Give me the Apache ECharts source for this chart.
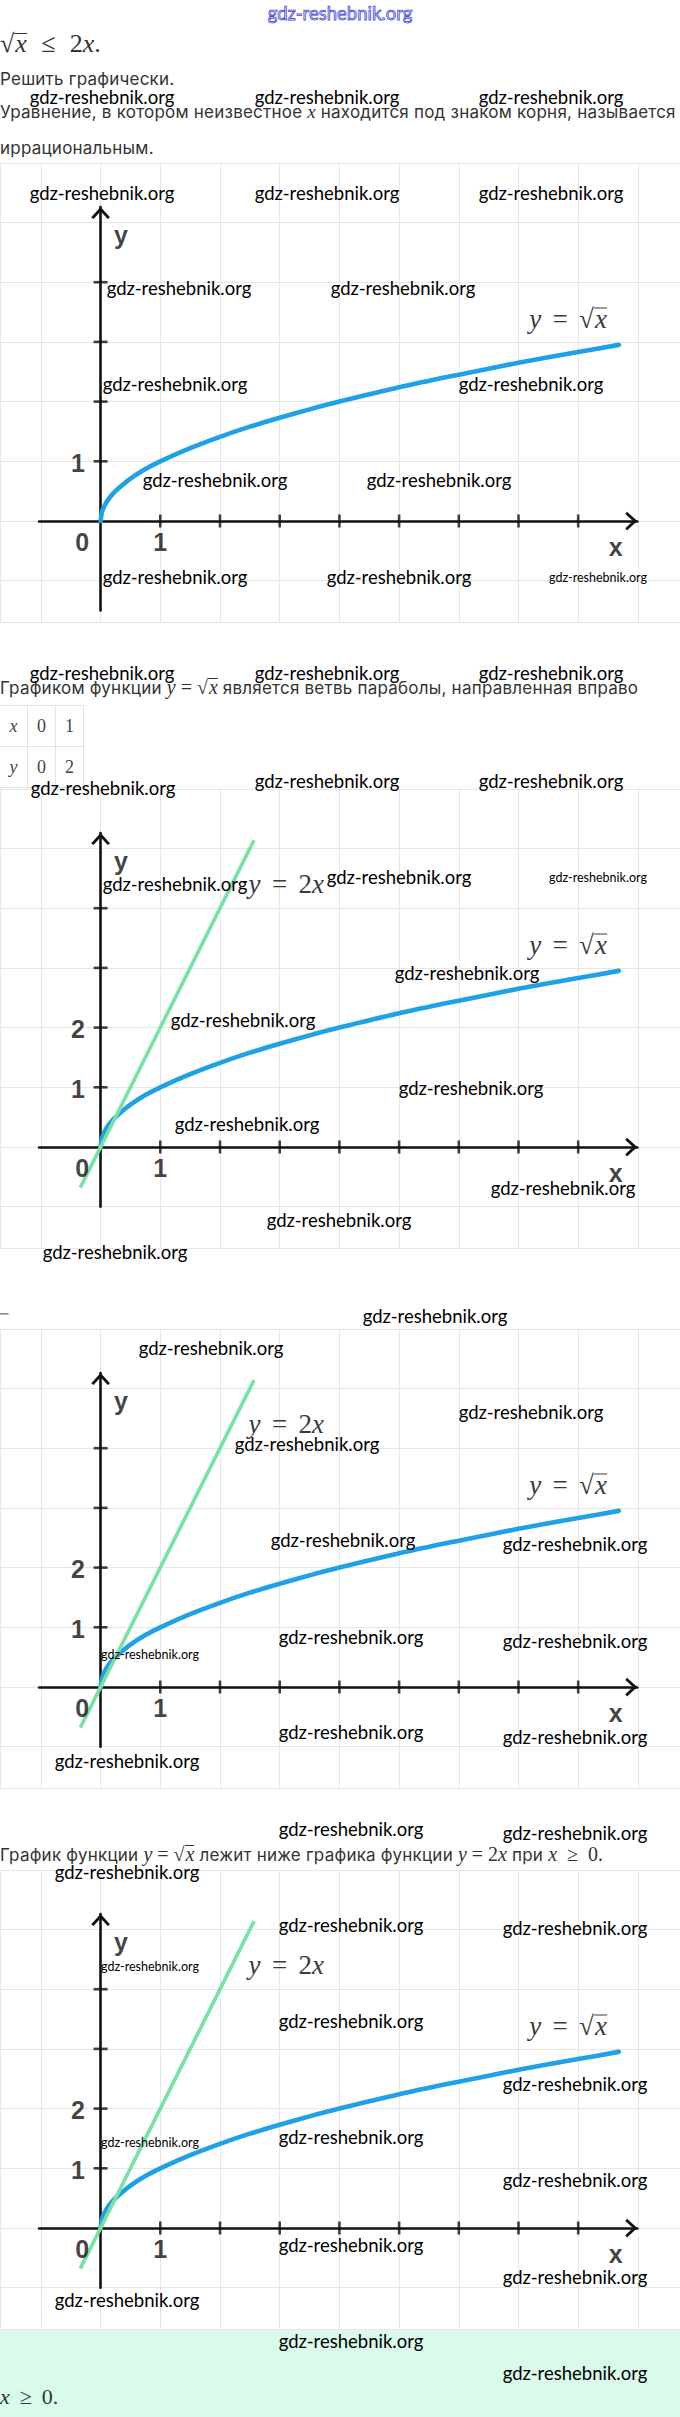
<!DOCTYPE html>
<html>
<head>
<meta charset="utf-8">
<script src="https://cdn.jsdelivr.net/npm/echarts@6.0.0/dist/echarts.min.js"></script>
<style>
html,body{margin:0;padding:0;background:#fff;}
#page{position:relative;width:680px;height:2417px;overflow:hidden;background:#fff;}
#chart{position:absolute;left:0;top:0;width:680px;height:2417px;z-index:1;}
.t{position:absolute;white-space:nowrap;font-family:Inter,"Noto Sans",sans-serif;font-size:17px;color:#333;line-height:20px;z-index:3;}
.mth{font-family:"Liberation Serif","DejaVu Serif",serif;letter-spacing:0;}
.mth i{font-style:italic;}
.ov{display:inline-block;border-top:1.2px solid currentColor;line-height:0.8em;padding-left:1px;}
.eq{margin:0 0.42em;}
.wm{position:absolute;font-family:Lato,"Open Sans",sans-serif;font-size:18.5px;line-height:1;color:#000;white-space:nowrap;transform:translate(-50%,-50%);z-index:6;}
.wm.s{font-size:12.5px;}
.wm.blue{color:#e4e4ff;-webkit-text-stroke:0.75px #4040d8;}
.flab{position:absolute;white-space:nowrap;font-family:"Liberation Serif",serif;font-size:27px;line-height:1;color:#3a3a3a;transform:translate(-50%,-50%);z-index:4;}
.flab i{font-style:italic;}
#tbl{position:absolute;left:-1px;top:705px;border-collapse:collapse;z-index:3;}
#tbl td{width:27px;height:40px;padding:0;border:1px solid #e3e3e3;text-align:center;font-family:"Liberation Serif",serif;font-size:18px;color:#444;}
#band{position:absolute;left:0;top:2330px;width:680px;height:87px;background:#dafbea;z-index:2;}
</style>
</head>
<body>
<div id="page">
  <div id="chart"></div>
  <div id="band"></div>
</div>
<script>
// ---------------- data ----------------
const sqrtX = [0, 0.02, 0.05, 0.1, 0.2, 0.35, 0.5, 0.75, 1, 1.5, 2, 2.5, 3, 3.5, 4, 5, 6, 7, 8, 8.68];
const sqrtY = [0, 0.14, 0.22, 0.32, 0.45, 0.59, 0.71, 0.87, 1.0, 1.22, 1.41, 1.58, 1.73, 1.87, 2.0, 2.24, 2.45, 2.65, 2.83, 2.95];
const lineX = [-0.34, 2.57];
const lineY = [-0.68, 5.14];
const xTickValues = [1, 2, 3, 4, 5, 6, 7, 8];
const yTickValues = [1, 2, 3, 4];
const xTickLabels = ['1'];
const yTickLabelsPerChart = [['1'], ['1', '2'], ['1', '2'], ['1', '2']];
const showLinePerChart = [false, true, true, true];
const yAxisBottomPerChart = [-1.5, -1.0, -1.0, -1.0];

// table values
const tableX = ['0', '1'];
const tableY = ['0', '2'];

// ---------------- layout ----------------
const UNIT = 59.7;
const OX = 100.6;
const originsY = [521, 1147, 1687, 2228];
const gridExtentX = [-1.685, 9.705];
const gridExtentY = [-1.7, 6.0];
const axisExtentX = [-1.03, 8.99];
const axisTopY = 5.26;
const ARROW = 'path://M0,11 L10,0 L20,11 L17.6,12.8 L10,4.6 L2.4,12.8 Z';

const page = document.getElementById('page');
function addDiv(cls, html, style) {
  const d = document.createElement('div');
  d.className = cls;
  d.innerHTML = html;
  Object.assign(d.style, style);
  page.appendChild(d);
  return d;
}
const SQRT = '√<span class="ov"><i>x</i></span>';
const M = (s, fs) => '<span class="mth" style="font-size:' + fs + 'px">' + s + '</span>';

// prose
const prose = [];
prose.push(addDiv('t', M(SQRT + '<span style="margin:0 0.55em">≤</span>2<i>x</i>.', 26), {left: '0px', top: '30px', lineHeight: '28px'}));
prose.push(addDiv('t', 'Решить графически.', {left: '0px', top: '69px'}));
const longLine = addDiv('t', 'Уравнение, в котором неизвестное ' + M('<i>x</i>', 19) + ' находится под знаком корня, называется', {left: '0px', top: '102px'});
prose.push(longLine);
prose.push(addDiv('t', 'иррациональным.', {left: '0px', top: '138px'}));
prose.push(addDiv('t', 'Графиком функции ' + M('<i>y</i> = ' + SQRT, 20) + ' является ветвь параболы, направленная вправо', {left: '0px', top: '677px'}));
prose.push(addDiv('t', '–', {left: '0px', top: '1303px', color: '#888'}));
prose.push(addDiv('t', 'График функции ' + M('<i>y</i> = ' + SQRT, 20) + ' лежит ниже графика функции ' + M('<i>y</i> = 2<i>x</i>', 20) + ' при ' + M('<i>x</i><span style="margin:0 0.5em">≥</span>0.', 20), {left: '0px', top: '1844px'}));
prose.push(addDiv('t', M('<i>x</i><span style="margin:0 0.45em">≥</span>0.', 22), {left: '0px', top: '2386px', lineHeight: '22px'}));

// fit the letter spacing of the prose so the long line ends where the reference's does
(function fit() {
  const w = longLine.getBoundingClientRect().width;
  const n = longLine.textContent.length;
  const ls = (676 - w) / n;
  prose.forEach(d => { if (d !== prose[0] && d !== prose[prose.length - 1]) d.style.letterSpacing = ls.toFixed(3) + 'px'; });
})();

// table
const tbl = document.createElement('table');
tbl.id = 'tbl';
tbl.innerHTML = '<tr><td><i>x</i></td>' + tableX.map(v => '<td>' + v + '</td>').join('') + '</tr>' +
                '<tr><td><i>y</i></td>' + tableY.map(v => '<td>' + v + '</td>').join('') + '</tr>';
page.appendChild(tbl);

// watermarks (page decoration)
const watermarks = [
  [102,97],[327,97],[551,97],[102,193],[327,193],[551,193],
  [179,288],[403,288],[175,384],[531,384],[215,480],[439,480],
  [175,577],[399,577],[598,578,1],
  [102,673],[327,673],[551,673],[103,788],[327,781],[551,781],
  [175,884],[399,877],[598,878,1],[467,973],[243,1020],[471,1088],[247,1124],
  [563,1188],[339,1220],[115,1252],
  [435,1316],[211,1348],[531,1412],[307,1444],[343,1540],[575,1544],
  [351,1637],[575,1641],[150,1655,1],[351,1732],[575,1737],[127,1761],
  [351,1829],[575,1833],[127,1872],[351,1925],[575,1928],[150,1967,1],
  [351,2021],[575,2084],[351,2137],[150,2143,1],[575,2180],
  [351,2245],[575,2277],[127,2300],[351,2341],[575,2373]
];
addDiv('wm blue', 'gdz-reshebnik.org', {left: '340px', top: '13px'});
watermarks.forEach(w => addDiv(w[2] ? 'wm s' : 'wm', 'gdz-reshebnik.org', {left: w[0] + 'px', top: w[1] + 'px'}));

// ---------------- chart ----------------
const chart = echarts.init(document.getElementById('chart'), null, {renderer: 'svg', width: 680, height: 2417});
const grid = [], xAxis = [], yAxis = [], series = [];
const hidden = {axisLine: {show: false}, axisTick: {show: false}, axisLabel: {show: false}};
const axisStyle = {color: '#111', width: 2.6};
const labelStyle = {show: true, position: 'inside', formatter: '{b}', fontFamily: 'Liberation Sans', fontWeight: 'bold', fontSize: 25, color: '#111'};

originsY.forEach((oy, i) => {
  const a = grid.length;
  grid.push({left: 0, width: 680, top: oy - gridExtentY[1] * UNIT, height: (gridExtentY[1] - gridExtentY[0]) * UNIT});
  xAxis.push(Object.assign({gridIndex: a, type: 'value', min: gridExtentX[0], max: gridExtentX[1], minInterval: 1, maxInterval: 1, splitNumber: 11,
    splitLine: {show: true, lineStyle: {color: '#e6e6e6', width: 1}}}, hidden));
  yAxis.push(Object.assign({gridIndex: a, type: 'value', min: gridExtentY[0], max: gridExtentY[1], minInterval: 1, maxInterval: 1, splitNumber: 8,
    splitLine: {show: true, lineStyle: {color: '#e6e6e6', width: 1}}}, hidden));

  const b = grid.length;
  const yb = yAxisBottomPerChart[i];
  grid.push({left: OX + axisExtentX[0] * UNIT, width: (axisExtentX[1] - axisExtentX[0]) * UNIT, top: oy - axisTopY * UNIT, height: (axisTopY - yb) * UNIT});
  xAxis.push({gridIndex: b, type: 'value', min: axisExtentX[0], max: axisExtentX[1],
    axisLine: {show: true, onZero: true, symbol: ['none', ARROW], symbolSize: [20, 12], symbolOffset: [0, -6], lineStyle: axisStyle},
    axisTick: {show: false}, axisLabel: {show: false}, splitLine: {show: false}});
  yAxis.push({gridIndex: b, type: 'value', min: yb, max: axisTopY,
    axisLine: {show: true, onZero: true, symbol: ['none', ARROW], symbolSize: [20, 12], symbolOffset: [0, -6], lineStyle: axisStyle},
    axisTick: {show: false}, axisLabel: {show: false}, splitLine: {show: false}});

  series.push({type: 'line', xAxisIndex: a, yAxisIndex: a, data: sqrtX.map((x, k) => [x, sqrtY[k]]),
    showSymbol: false, smooth: 0.3, silent: true, z: 3, lineStyle: {color: '#1ea2e5', width: 4.6, cap: 'round'}});
  if (showLinePerChart[i]) {
    series.push({type: 'line', xAxisIndex: a, yAxisIndex: a, data: lineX.map((x, k) => [x, lineY[k]]),
      showSymbol: false, silent: true, z: 4, lineStyle: {color: '#78e2a5', width: 3.6, cap: 'butt'}});
  }
  series.push({type: 'scatter', xAxisIndex: a, yAxisIndex: a, data: xTickValues.map(v => [v, 0]), symbol: 'rect', symbolSize: [2.6, 13],
    itemStyle: {color: '#111'}, silent: true, z: 2});
  series.push({type: 'scatter', xAxisIndex: a, yAxisIndex: a, data: yTickValues.map(v => [0, v]), symbol: 'rect', symbolSize: [14, 2.6],
    itemStyle: {color: '#111'}, silent: true, z: 2});
  const labels = [{name: '0', value: [-0.31, -0.36]}]
    .concat(xTickLabels.map(s => ({name: s, value: [Number(s), -0.36]})))
    .concat(yTickLabelsPerChart[i].map(s => ({name: s, value: [-0.38, Number(s) - 0.03]})))
    .concat([{name: 'x', value: [8.63, -0.44]}, {name: 'y', value: [0.34, 4.79]}]);
  series.push({type: 'scatter', xAxisIndex: a, yAxisIndex: a, data: labels, symbolSize: 1, itemStyle: {color: 'rgba(0,0,0,0)'},
    label: labelStyle, silent: true, z: 5});
});

chart.setOption({animation: false, backgroundColor: 'transparent', grid, xAxis, yAxis, series});

// function labels positioned through the chart's scales
const sqrtLabelPos = [7.83, 3.38];
const lineLabelPos = [3.11, 4.40];
originsY.forEach((oy, i) => {
  const p = chart.convertToPixel({gridIndex: 2 * i}, sqrtLabelPos);
  addDiv('flab', '<i>y</i><span class="eq">=</span>√<span class="ov"><i>x</i></span>', {left: p[0] + 'px', top: p[1] + 'px'});
  if (showLinePerChart[i]) {
    const q = chart.convertToPixel({gridIndex: 2 * i}, lineLabelPos);
    addDiv('flab', '<i>y</i><span class="eq">=</span>2<i>x</i>', {left: q[0] + 'px', top: q[1] + 'px'});
  }
});
</script>
</body>
</html>
